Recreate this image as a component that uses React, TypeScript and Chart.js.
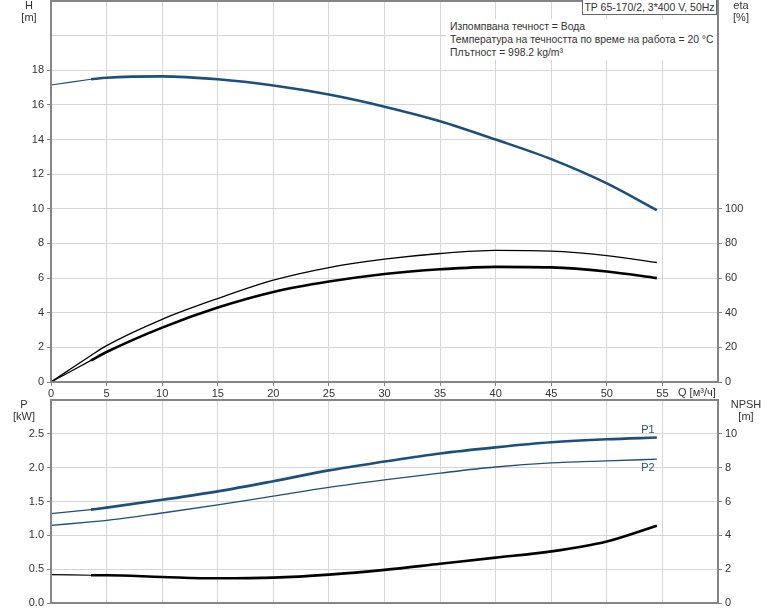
import { useEffect, useRef } from 'react'
import Chart from 'chart.js/auto'

// Q [m3/h] for the operating range (thick curves) and the full range
const flowQ = [3.6, 5, 10, 15, 20, 25, 30, 35, 40, 45, 50, 54.5]
const flowFull = [0, 3.6, 5, 10, 15, 20, 25, 30, 35, 40, 45, 50, 54.5]
const startQ = [0, 3.6]

// top chart
const headH = [17.48, 17.57, 17.65, 17.48, 17.12, 16.6, 15.9, 15.06, 14.0, 12.87, 11.47, 9.92]
const headStart = [17.15, 17.48]
const etaThick = [12.5, 17.3, 31.4, 43, 52, 58, 62.4, 65.1, 66.5, 66.2, 63.8, 60]
const etaThickStart = [0, 12.5]
const etaThin = [0, 15.3, 21, 36.2, 48.2, 58.8, 66.1, 70.9, 74.2, 76, 75.6, 73, 69]

// bottom chart
const powerP1 = [1.38, 1.41, 1.525, 1.65, 1.8, 1.96, 2.09, 2.21, 2.3, 2.375, 2.42, 2.445]
const powerP1Start = [1.32, 1.38]
const powerP2 = [1.146, 1.2, 1.22, 1.33, 1.45, 1.58, 1.71, 1.82, 1.92, 2.01, 2.07, 2.1, 2.125]
const npsh = [1.64, 1.64, 1.54, 1.46, 1.5, 1.68, 1.96, 2.32, 2.68, 3.05, 3.64, 4.57]
const npshStart = [1.68, 1.64]

const qTicks = [0, 5, 10, 15, 20, 25, 30, 35, 40, 45, 50, 55]

const BLUE = '#1d4f7c'
const GRID = '#d6d6d6'
const AXIS = '#858585'
const TEXT = '#333333'
const FONT = '"Liberation Sans", Arial, sans-serif'

function points(xs: number[], ys: number[]) {
  return xs.map((x, i) => ({ x, y: ys[i] }))
}

function line(data: { x: number; y: number }[], color: string, width: number, axis = 'y') {
  return {
    data,
    borderColor: color,
    borderWidth: width,
    pointRadius: 0,
    fill: false,
    cubicInterpolationMode: 'monotone' as const,
    yAxisID: axis,
  }
}

const framePlugin = {
  id: 'frame',
  afterDraw(chart: any) {
    const { ctx, chartArea } = chart
    ctx.save()
    ctx.strokeStyle = AXIS
    ctx.lineWidth = 2
    ctx.strokeRect(chartArea.left, chartArea.top, chartArea.right - chartArea.left, chartArea.bottom - chartArea.top)
    ctx.restore()
  },
}

const tickFont = { family: FONT, size: 11 }

function xScale(showLabels: boolean, height: number) {
  return {
    type: 'linear' as const,
    min: 0,
    max: 60,
    afterFit: (scale: any) => {
      scale.height = height
      scale.paddingLeft = 0
      scale.paddingRight = 0
    },
    afterBuildTicks: (scale: any) => {
      scale.ticks = [...qTicks, 60].map((value) => ({ value }))
    },
    border: { display: false },
    grid: {
      color: GRID,
      tickLength: 4,
      drawTicks: showLabels,
      tickColor: (c: any) => (c.tick && c.tick.value <= 55 ? AXIS : 'transparent'),
    },
    ticks: {
      display: showLabels,
      padding: 1,
      maxRotation: 0,
      autoSkip: false,
      font: tickFont,
      color: TEXT,
      callback: (v: any) => (Number(v) <= 55 ? String(v) : ''),
    },
  }
}

function yScale(
  position: 'left' | 'right',
  max: number,
  step: number,
  labelMax: number,
  width: number,
  onArea: boolean,
  format: (v: number) => string,
) {
  return {
    type: 'linear' as const,
    position,
    min: 0,
    max,
    afterFit: (scale: any) => {
      scale.width = width
      scale.paddingTop = 0
      scale.paddingBottom = 0
    },
    border: { display: false },
    grid: {
      color: GRID,
      drawOnChartArea: onArea,
      tickLength: 4,
      tickColor: (c: any) => (c.tick && c.tick.value <= labelMax ? AXIS : 'transparent'),
    },
    ticks: {
      stepSize: step,
      padding: 3,
      font: tickFont,
      color: TEXT,
      callback: (v: any) => (Number(v) <= labelMax ? format(Number(v)) : ''),
    },
  }
}

function TopChart() {
  const canvasRef = useRef<HTMLCanvasElement | null>(null)

  useEffect(() => {
    if (!canvasRef.current) return undefined
    const chart = new Chart(canvasRef.current, {
      type: 'line',
      data: {
        datasets: [
          line(points(startQ, headStart), BLUE, 1.2),
          line(points(flowQ, headH), BLUE, 2.6),
          line(points(flowFull, etaThin), '#000', 1.3, 'y1'),
          line(points(startQ, etaThickStart), '#000', 1.2, 'y1'),
          line(points(flowQ, etaThick), '#000', 2.6, 'y1'),
        ] as any,
      },
      options: {
        animation: false,
        responsive: false,
        layout: { padding: { top: 1, left: 0, right: 0, bottom: 0 } },
        plugins: { legend: { display: false }, tooltip: { enabled: false } },
        scales: {
          x: xScale(true, 16),
          y: yScale('left', 22, 2, 18, 51, true, (v) => String(v)),
          y1: yScale('right', 220, 20, 100, 56, false, (v) => String(v)),
        } as any,
      },
      plugins: [framePlugin],
    })
    return () => chart.destroy()
  }, [])

  return <canvas ref={canvasRef} width={774} height={398} style={{ position: 'absolute', left: 0, top: 0 }} />
}

function BottomChart() {
  const canvasRef = useRef<HTMLCanvasElement | null>(null)

  useEffect(() => {
    if (!canvasRef.current) return undefined
    const labelPlugin = {
      id: 'curveLabels',
      afterDraw(chart: any) {
        const { ctx, scales } = chart
        const lastQ = flowQ[flowQ.length - 1]
        ctx.save()
        ctx.font = `11px ${FONT}`
        ctx.fillStyle = BLUE
        ctx.textAlign = 'center'
        ctx.textBaseline = 'middle'
        ctx.fillText('P1', scales.x.getPixelForValue(lastQ) - 9, scales.y.getPixelForValue(powerP1[powerP1.length - 1]) - 8)
        ctx.fillText('P2', scales.x.getPixelForValue(lastQ) - 9, scales.y.getPixelForValue(powerP2[powerP2.length - 1]) + 9)
        ctx.restore()
      },
    }
    const chart = new Chart(canvasRef.current, {
      type: 'line',
      data: {
        datasets: [
          line(points(startQ, powerP1Start), BLUE, 1.2),
          line(points(flowQ, powerP1), BLUE, 2.6),
          line(points(flowFull, powerP2), BLUE, 1.3),
          line(points(startQ, npshStart), '#000', 1.2, 'y1'),
          line(points(flowQ, npsh), '#000', 2.6, 'y1'),
        ] as any,
      },
      options: {
        animation: false,
        responsive: false,
        layout: { padding: { top: 2, left: 0, right: 0, bottom: 0 } },
        plugins: { legend: { display: false }, tooltip: { enabled: false } },
        scales: {
          x: xScale(false, 8),
          y: yScale('left', 3, 0.5, 2.5, 51, true, (v) => v.toFixed(1)),
          y1: yScale('right', 12, 2, 10, 56, false, (v) => String(v)),
        } as any,
      },
      plugins: [framePlugin, labelPlugin],
    })
    return () => chart.destroy()
  }, [])

  return <canvas ref={canvasRef} width={774} height={213} style={{ position: 'absolute', left: 0, top: 398 }} />
}

const label: React.CSSProperties = {
  position: 'absolute',
  fontFamily: FONT,
  fontSize: 11,
  color: TEXT,
  lineHeight: '12px',
  textAlign: 'center',
  whiteSpace: 'nowrap',
}

export default function App() {
  return (
    <div style={{ position: 'fixed', left: 0, top: 0, width: 774, height: 611, background: '#fff', overflow: 'hidden' }}>
      <TopChart />
      <BottomChart />
      <div style={{ ...label, left: 14, top: -1, width: 30 }}>H<br />[m]</div>
      <div style={{ ...label, left: 726, top: -1, width: 30 }}>eta<br />[%]</div>
      <div style={{ ...label, left: 678, top: 386, textAlign: 'left' }}>Q [м³/ч]</div>
      <div style={{ ...label, left: 8, top: 398, width: 32 }}>P<br />[kW]</div>
      <div style={{ ...label, left: 728, top: 398, width: 36 }}>NPSH<br />[m]</div>
      <div
        style={{
          ...label,
          left: 582,
          top: 0,
          width: 135,
          height: 15,
          fontSize: 10.5,
          lineHeight: '15px',
          border: '1px solid #666',
          borderTop: 'none',
          boxSizing: 'border-box',
          background: '#fff',
        }}
      >
        TP 65-170/2, 3*400 V, 50Hz
      </div>
      <div
        style={{
          ...label,
          left: 446,
          top: 19,
          width: 270,
          fontSize: 10.4,
          textAlign: 'left',
          lineHeight: '13px',
          padding: '1px 0 1px 4px',
          background: '#fff',
          boxSizing: 'border-box',
        }}
      >
        Изпомпвана течност = Вода
        <br />
        Температура на течността по време на работа = 20 °C
        <br />
        Плътност = 998.2 kg/m³
      </div>
    </div>
  )
}
